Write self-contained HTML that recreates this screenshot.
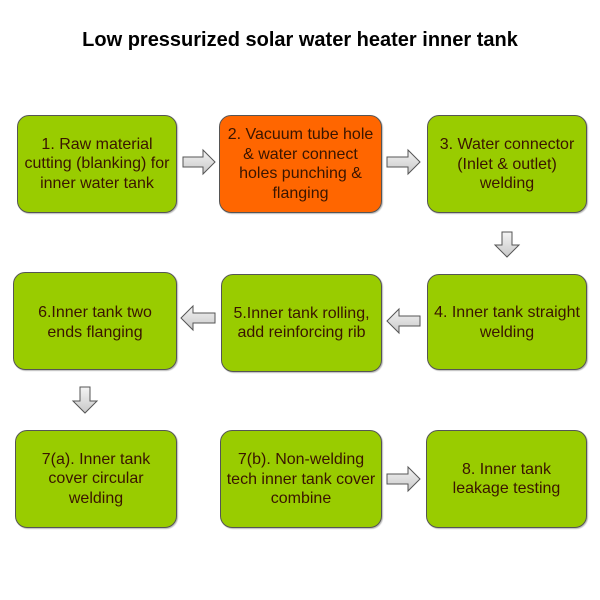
<!DOCTYPE html>
<html><head><style>
body{margin:0;width:600px;height:600px;background:#fff;position:relative;font-family:"Liberation Sans",Arial,sans-serif;overflow:hidden}
.t{position:absolute;top:29px;left:0;width:600px;text-align:center;font-weight:bold;font-size:20px;color:#000}
.b{position:absolute;box-sizing:border-box;border:1px solid #555;border-radius:12px;background:#99cc00;display:flex;align-items:center;justify-content:center;text-align:center;font-size:16px;line-height:19.5px;color:#3a1500;padding:0;white-space:nowrap;box-shadow:1px 1px 1px #bbb}
.o{background:#ff6600}
svg{position:absolute;left:0;top:0}
</style></head><body>
<div class="t">Low pressurized solar water heater inner tank</div>
<div class="b" style="left:17px;top:115px;width:160px;height:98px">1. Raw material<br>cutting (blanking) for<br>inner water tank</div>
<div class="b o" style="left:219px;top:115px;width:163px;height:98px;align-items:flex-start;padding-top:9px">2. Vacuum tube hole<br>&amp; water connect<br>holes punching &amp;<br>flanging</div>
<div class="b" style="left:427px;top:115px;width:160px;height:98px;align-items:flex-start;padding-top:19px">3. Water connector<br>(Inlet &amp; outlet)<br>welding</div>
<div class="b" style="left:13px;top:272px;width:164px;height:98px;align-items:flex-start;padding-top:30px">6.Inner tank two<br>ends flanging</div>
<div class="b" style="left:221px;top:274px;width:161px;height:98px">5.Inner tank rolling,<br>add reinforcing rib</div>
<div class="b" style="left:427px;top:274px;width:160px;height:96px;align-items:flex-start;padding-top:28px">4. Inner tank straight<br>welding</div>
<div class="b" style="left:15px;top:430px;width:162px;height:98px">7(a). Inner tank<br>cover circular<br>welding</div>
<div class="b" style="left:220px;top:430px;width:162px;height:98px;align-items:flex-start;padding-top:19px">7(b). Non-welding<br>tech inner tank cover<br>combine</div>
<div class="b" style="left:426px;top:430px;width:161px;height:98px">8. Inner tank<br>leakage testing</div>
<svg width="600" height="600">
<defs><linearGradient id="g" x1="0" y1="0" x2="0" y2="1"><stop offset="0" stop-color="#f4f4f4"/><stop offset="1" stop-color="#c8c8c8"/></linearGradient></defs>
<g fill="url(#g)" stroke="#555" stroke-width="1">
<path d="M183 157h20v-7l12 12-12 12v-7h-20z"/>
<path d="M387 157h21v-7l12 12-12 12v-7h-21z"/>
<path d="M420 316h-21v-7l-12 12 12 12v-7h21z"/>
<path d="M215 313h-22v-7l-12 12 12 12v-7h22z"/>
<path d="M387 474h21v-7l12 12-12 12v-7h-21z"/>
<path d="M502 232v13h-7l12 12 12-12h-7v-13z"/>
<path d="M80 387v14h-7l12 12 12-12h-7v-14z"/>
</g></svg>
</body></html>
